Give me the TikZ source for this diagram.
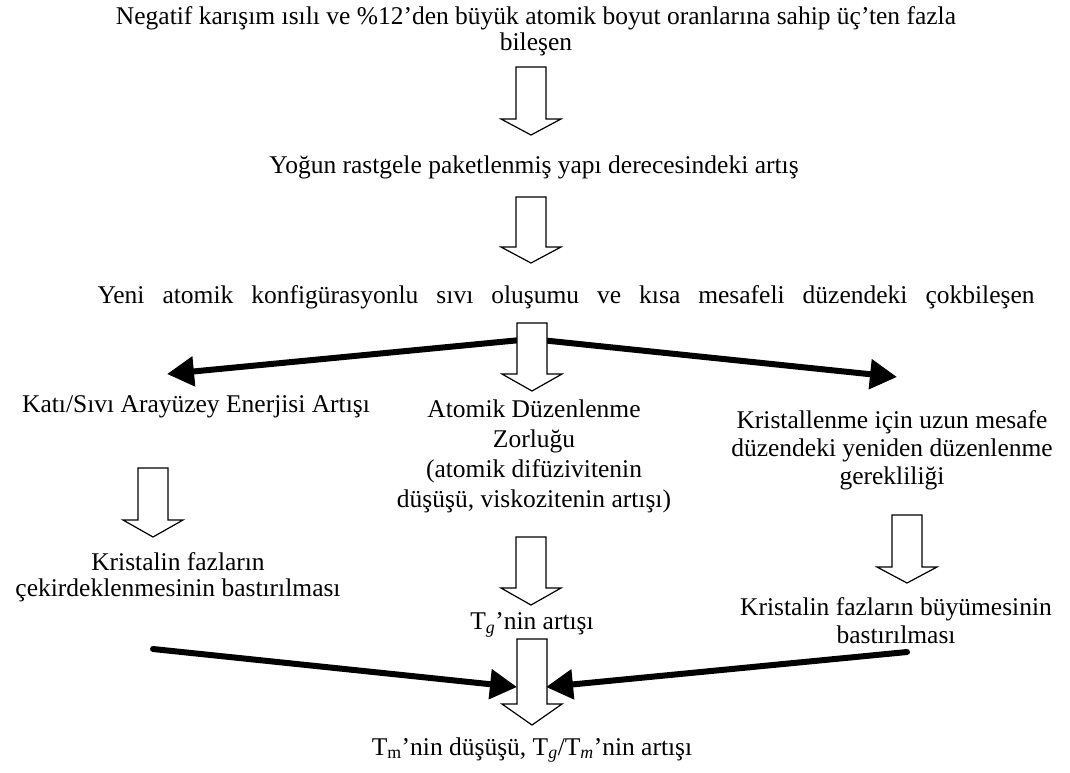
\documentclass[tikz,border=0pt]{standalone}
\usepackage{fontspec}
\setmainfont{Liberation Serif}
\usetikzlibrary{arrows.meta}
\tikzset{
  txt/.style={inner sep=0pt, align=center, font=\fontsize{25.5}{26.5}\selectfont},
  hollowline/.style={draw=black, line width=1.2pt, fill=white, line join=miter},
  boldarrow/.style={line width=6pt, line cap=round, -{Triangle[length=27pt,width=29pt]}},
  pics/hollow/.style 2 args={code={
    \draw[hollowline] (-15,0) -- (15,0) -- (15,#1) -- (30,#1) -- (0,#1+#2) -- (-30,#1) -- (-15,#1) -- cycle;
  }},
}
\begin{document}
\begin{tikzpicture}[x=1pt,y=-1pt]
\useasboundingbox (0,0) rectangle (1070,772);

% text nodes
\node[txt] (top) at (536,31) {Negatif karışım ısılı ve \%12’den büyük atomik boyut oranlarına sahip üç’ten fazla\\bileşen};
\node[txt] (dense) at (534,167) {Yoğun rastgele paketlenmiş yapı derecesindeki artış};
\node[txt] (liquid) at (566,297) {\makebox[937pt][s]{Yeni atomik konfigürasyonlu sıvı oluşumu ve kısa mesafeli düzendeki çokbileşen}};
\node[txt] (interface) at (196,407) {Katı/Sıvı Arayüzey Enerjisi Artışı};
\node[txt, font=\fontsize{25.5}{30}\selectfont] (atomic) at (534,456) {Atomik Düzenlenme\\Zorluğu\\(atomik difüzivitenin\\düşüşü, viskozitenin artışı)};
\node[txt, font=\fontsize{25.5}{28}\selectfont] (longrange) at (892,450) {Kristallenme için uzun mesafe\\düzendeki yeniden düzenlenme\\gerekliliği};
\node[txt, font=\fontsize{25.5}{25.5}\selectfont] (nucl) at (178,577) {Kristalin fazların\\çekirdeklenmesinin bastırılması};
\node[txt] (tg) at (532,625) {T\textsubscript{\textit{g}}’nin artışı};
\node[txt, font=\fontsize{25.5}{28}\selectfont] (growth) at (896,621) {Kristalin fazların büyümesinin\\bastırılması};
\node[txt] (final) at (532,750) {T\textsubscript{m}’nin düşüşü, T\textsubscript{\textit{g}}/T\textsubscript{\textit{m}}’nin artışı};

% bold connectors
\coordinate (split) at (531,339);
\coordinate (leftTip) at (167,374);
\coordinate (rightTip) at (897,377);
\coordinate (nuclEnd) at (153,649);
\coordinate (growthEnd) at (907,652);
\coordinate (mergeL) at (517,687);
\coordinate (mergeR) at (546,687);
\draw[boldarrow] (split) -- (leftTip);
\draw[boldarrow] (split) -- (rightTip);
\draw[boldarrow] (nuclEnd) -- (mergeL);
\draw[boldarrow] (growthEnd) -- (mergeR);

% hollow block arrows
\pic at (531,67) {hollow={52}{16}};
\pic at (531,197) {hollow={50}{16}};
\pic at (532,323) {hollow={51}{17}};
\pic at (153,468) {hollow={52}{17}};
\pic at (531,537) {hollow={51}{17}};
\pic at (907,515) {hollow={52}{16}};
\pic at (532,639) {hollow={65}{21}};
\end{tikzpicture}
\end{document}
